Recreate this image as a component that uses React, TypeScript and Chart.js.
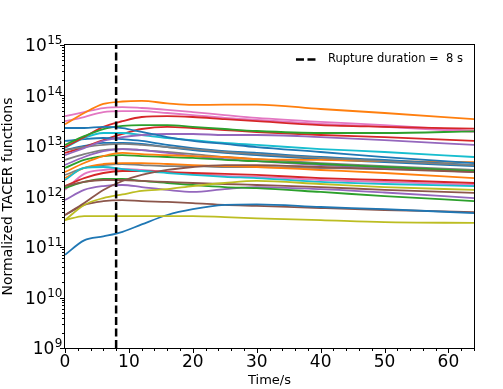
import React, { useEffect, useRef } from 'react';
import { Chart, registerables } from 'chart.js';

Chart.register(...registerables);

// ---------- data ----------
const TIME = [0, 3, 6, 9, 12, 16, 20, 25, 30, 40, 50, 64];
const RUPTURE_DURATION = 8;
const Y_TICKS = [1e9, 1e10, 1e11, 1e12, 1e13, 1e14, 1e15];
const Y_TICK_BASE = '10';
const Y_TICK_EXPONENTS = ['9', '10', '11', '12', '13', '14', '15'];
const X_TICKS = [0, 10, 20, 30, 40, 50, 60];
const LEGEND_LABEL = 'Rupture duration =  8 s';
const X_LABEL = 'Time/s';
const Y_LABEL = 'Normalized TACER functions';

const BLUE = '#1f77b4';
const ORANGE = '#ff7f0e';
const GREEN = '#2ca02c';
const RED = '#d62728';
const PURPLE = '#9467bd';
const BROWN = '#8c564b';
const PINK = '#e377c2';
const GRAY = '#7f7f7f';
const OLIVE = '#bcbd22';
const CYAN = '#17becf';

const blueTop = [2.27e13, 2.27e13, 2.4e13, 2.27e13, 1.9e13, 1.5e13, 1.26e13, 1.1e13, 9.5e12, 7.6e12, 6.0e12, 4.6e12];
const orangeTop = [2.7e13, 4.5e13, 6.8e13, 7.6e13, 7.8e13, 7.0e13, 6.5e13, 6.6e13, 6.6e13, 5.4e13, 4.5e13, 3.4e13];
const greenTop = [1.05e13, 1.57e13, 2.17e13, 2.5e13, 2.6e13, 2.6e13, 2.4e13, 2.17e13, 1.98e13, 1.81e13, 1.81e13, 1.95e13];
const redTop = [9.5e12, 1.5e13, 2.4e13, 3.1e13, 3.75e13, 3.9e13, 3.75e13, 3.4e13, 3.1e13, 2.6e13, 2.4e13, 2.2e13];
const purpleTop = [6.6e12, 9.1e12, 1.26e13, 1.5e13, 1.65e13, 1.73e13, 1.73e13, 1.65e13, 1.65e13, 1.5e13, 1.31e13, 1.05e13];
const brownRise = [4.3e11, 7.4e11, 1.35e12, 2.03e12, 2.67e12, 3.35e12, 3.84e12, 4.2e12, 4.2e12, 3.84e12, 3.5e12, 3.05e12];
const pinkTop = [3.9e13, 4.7e13, 5.65e13, 5.9e13, 5.65e13, 5.2e13, 4.7e13, 4.1e13, 3.6e13, 3.0e13, 2.6e13, 1.98e13];
const grayTop = [8.3e12, 9.5e12, 1.05e13, 1.1e13, 1.05e13, 9.5e12, 8.7e12, 7.6e12, 6.9e12, 5.8e12, 5.0e12, 4.2e12];
const oliveRise = [3.4e11, 6.8e11, 9.3e11, 1.1e12, 1.29e12, 1.4e12, 1.61e12, 1.85e12, 2.03e12, 1.77e12, 1.54e12, 1.35e12];
const cyanTop = [9.1e12, 1.44e13, 1.81e13, 1.81e13, 1.65e13, 1.44e13, 1.31e13, 1.15e13, 1.05e13, 8.7e12, 7.6e12, 6.05e12];
const blueMid = [1.26e13, 1.37e13, 1.44e13, 1.37e13, 1.26e13, 1.05e13, 9.1e12, 7.9e12, 7.3e12, 6.05e12, 5.3e12, 4.2e12];
const orangeMid = [3.05e12, 4.6e12, 6.3e12, 7.3e12, 6.9e12, 6.6e12, 6.3e12, 6.05e12, 5.5e12, 5.3e12, 5.0e12, 4.8e12];
const greenMid = [3.67e12, 5.3e12, 6.3e12, 6.6e12, 6.3e12, 6.05e12, 5.8e12, 5.3e12, 5.0e12, 4.4e12, 3.84e12, 3.2e12];
const redMid = [7.3e12, 9.5e12, 1.31e13, 1.73e13, 2.17e13, 2.4e13, 2.27e13, 2.07e13, 1.89e13, 1.65e13, 1.5e13, 1.26e13];
const purpleMid = [4.2e12, 6.05e12, 7.9e12, 8.7e12, 8.3e12, 7.3e12, 6.3e12, 5.5e12, 5.0e12, 4.2e12, 3.67e12, 3.05e12];
const brownMid = [1.61e12, 1.94e12, 2.12e12, 2.12e12, 2.03e12, 1.94e12, 1.85e12, 1.77e12, 1.69e12, 1.54e12, 1.35e12, 1.18e12];
const pinkMid = [3.1e13, 3.75e13, 4.7e13, 4.9e13, 4.9e13, 4.5e13, 4.1e13, 3.6e13, 3.3e13, 2.75e13, 2.4e13, 1.9e13];
const grayMid = [5.3e12, 6.9e12, 8.3e12, 8.7e12, 8.3e12, 7.6e12, 6.9e12, 6.05e12, 5.5e12, 4.6e12, 4.0e12, 3.35e12];
const oliveFlat = [3.4e11, 4.1e11, 4.1e11, 4.1e11, 4.1e11, 4.1e11, 4.1e11, 3.9e11, 3.7e11, 3.4e11, 3.1e11, 3.0e11];
const cyanLow = [2.12e12, 3.67e12, 3.84e12, 3.5e12, 3.2e12, 2.92e12, 2.67e12, 2.45e12, 2.32e12, 1.94e12, 1.77e12, 1.61e12];
const blueLow = [7.0e10, 1.35e11, 1.62e11, 2.0e11, 2.8e11, 4.3e11, 5.6e11, 6.8e11, 7.0e11, 6.2e11, 5.6e11, 4.7e11];
const orangeLow = [2.32e12, 3.67e12, 4.4e12, 4.6e12, 4.6e12, 4.4e12, 4.2e12, 4.0e12, 3.84e12, 3.35e12, 2.92e12, 2.32e12];
const greenLow = [1.47e12, 1.94e12, 2.22e12, 2.22e12, 2.03e12, 1.85e12, 1.69e12, 1.54e12, 1.47e12, 1.23e12, 1.02e12, 8.1e11];
const redLow = [1.61e12, 2.32e12, 2.92e12, 3.2e12, 3.2e12, 3.05e12, 2.92e12, 2.8e12, 2.67e12, 2.32e12, 2.12e12, 1.85e12];
const purpleLow = [8.5e11, 1.35e12, 1.61e12, 1.69e12, 1.54e12, 1.35e12, 1.23e12, 1.4e12, 1.54e12, 1.4e12, 1.2e12, 9.3e11];
const brownLow = [4.3e11, 6.8e11, 8.1e11, 8.5e11, 8.1e11, 7.8e11, 7.4e11, 6.8e11, 6.5e11, 5.9e11, 5.4e11, 4.9e11];
const pinkLow = [1.35e12, 2.8e12, 3.35e12, 3.5e12, 3.35e12, 3.05e12, 2.8e12, 2.55e12, 2.45e12, 2.12e12, 1.94e12, 1.69e12];
const grayLow = [2.67e12, 3.67e12, 4.2e12, 4.4e12, 4.2e12, 4.0e12, 4.0e12, 3.84e12, 3.84e12, 3.67e12, 3.5e12, 3.35e12];
const blueThird = [8.3e12, 1.0e13, 1.15e13, 1.15e13, 1.1e13, 9.5e12, 8.3e12, 7.3e12, 6.6e12, 5.5e12, 4.8e12, 4.0e12];

const SERIES: { values: number[]; color: string }[] = [
  { values: blueTop, color: BLUE },
  { values: orangeTop, color: ORANGE },
  { values: greenTop, color: GREEN },
  { values: redTop, color: RED },
  { values: purpleTop, color: PURPLE },
  { values: brownRise, color: BROWN },
  { values: pinkTop, color: PINK },
  { values: grayTop, color: GRAY },
  { values: oliveRise, color: OLIVE },
  { values: cyanTop, color: CYAN },
  { values: blueMid, color: BLUE },
  { values: orangeMid, color: ORANGE },
  { values: greenMid, color: GREEN },
  { values: redMid, color: RED },
  { values: purpleMid, color: PURPLE },
  { values: brownMid, color: BROWN },
  { values: pinkMid, color: PINK },
  { values: grayMid, color: GRAY },
  { values: oliveFlat, color: OLIVE },
  { values: cyanLow, color: CYAN },
  { values: blueLow, color: BLUE },
  { values: orangeLow, color: ORANGE },
  { values: greenLow, color: GREEN },
  { values: redLow, color: RED },
  { values: purpleLow, color: PURPLE },
  { values: brownLow, color: BROWN },
  { values: pinkLow, color: PINK },
  { values: grayLow, color: GRAY },
  { values: blueThird, color: BLUE },
];

const FONT = '"DejaVu Sans", sans-serif';

const decorPlugin = {
  id: 'mplDecor',
  afterDraw(chart: any) {
    const { ctx, chartArea } = chart;
    const { left, right, top, bottom } = chartArea;
    const xs = chart.scales.x;
    const ys = chart.scales.y;
    ctx.save();
    ctx.strokeStyle = '#000';
    ctx.lineWidth = 1;
    // spines
    ctx.strokeRect(Math.round(left) - 0.5, Math.round(top) - 0.5, Math.round(right - left) + 1, Math.round(bottom - top) + 1);
    // y ticks (major + minor)
    ctx.beginPath();
    for (let e = 9; e <= 15; e++) {
      for (let k = 1; k <= 9; k++) {
        const v = k * Math.pow(10, e);
        if (v > 1e15 * 1.0001) break;
        const py = Math.round(ys.getPixelForValue(v)) + 0.5;
        const len = k === 1 ? 4.5 : 2.5;
        ctx.moveTo(Math.round(left) - 0.5 - len, py);
        ctx.lineTo(Math.round(left) - 0.5, py);
      }
    }
    // x ticks
    for (let t = 0; t <= 64; t += 2) {
      const px = Math.round(xs.getPixelForValue(t)) + 0.5;
      const len = t % 10 === 0 ? 4.5 : 2.5;
      ctx.moveTo(px, Math.round(bottom) + 0.5);
      ctx.lineTo(px, Math.round(bottom) + 0.5 + len);
    }
    ctx.stroke();
    // y tick labels: 10 with superscript exponent
    ctx.fillStyle = '#000';
    ctx.textBaseline = 'alphabetic';
    ctx.textAlign = 'left';
    const baseFont = '17px ' + FONT;
    const expFont = '12px ' + FONT;
    Y_TICKS.forEach((v, i) => {
      const py = ys.getPixelForValue(v);
      const exp = Y_TICK_EXPONENTS[i];
      ctx.font = expFont;
      const ew = ctx.measureText(exp).width;
      ctx.font = baseFont;
      const bw = ctx.measureText(Y_TICK_BASE).width;
      const xRight = left - 2.5;
      const bx = xRight - ew - bw - 0.5;
      const baseline = py + 6.2;
      ctx.fillText(Y_TICK_BASE, bx, baseline);
      ctx.font = expFont;
      ctx.fillText(exp, bx + bw + 0.5, baseline - 7);
    });
    // legend
    ctx.font = '11.5px ' + FONT;
    ctx.textAlign = 'right';
    ctx.textBaseline = 'middle';
    const tx = right - 11;
    const ty = top + 14.5;
    ctx.fillText(LEGEND_LABEL, tx, ty);
    const w = ctx.measureText(LEGEND_LABEL).width;
    const sx = tx - w - 11;
    ctx.beginPath();
    ctx.lineWidth = 2.5;
    ctx.setLineDash([8, 3.5]);
    ctx.moveTo(sx - 21, ty);
    ctx.lineTo(sx, ty);
    ctx.stroke();
    ctx.restore();
  },
};

export default function App() {
  const ref = useRef<HTMLCanvasElement | null>(null);
  useEffect(() => {
    document.body.style.margin = '0';
    const canvas = ref.current;
    if (!canvas) return;
    const datasets: any[] = [
      {
        data: [
          { x: RUPTURE_DURATION, y: Y_TICKS[0] },
          { x: RUPTURE_DURATION, y: Y_TICKS[Y_TICKS.length - 1] },
        ],
        borderColor: '#000',
        borderWidth: 2.5,
        borderDash: [8, 3.5],
        pointRadius: 0,
        fill: false,
      },
      ...SERIES.map((s) => ({
        data: TIME.map((t, i) => ({ x: t, y: s.values[i] })),
        borderColor: s.color,
        borderWidth: 1.8,
        pointRadius: 0,
        fill: false,
        cubicInterpolationMode: 'monotone',
      })),
    ];
    const chart = new Chart(canvas, {
      type: 'line',
      data: { datasets },
      options: {
        responsive: false,
        animation: false,
        devicePixelRatio: 1,
        layout: { padding: { left: 0, top: 45, right: 29, bottom: 0 } },
        plugins: { legend: { display: false }, tooltip: { enabled: false } },
        scales: {
          x: {
            type: 'linear',
            min: 0,
            max: 64,
            grid: { display: false, drawTicks: false },
            border: { display: false },
            afterFit: (s: any) => {
              s.height = 41;
            },
            afterBuildTicks: (s: any) => {
              s.ticks = X_TICKS.map((v) => ({ value: v }));
            },
            ticks: {
              autoSkip: false,
              maxRotation: 0,
              padding: 4,
              color: '#000',
              font: { family: FONT, size: 17 },
              callback: (v: any) => String(v),
            },
            title: {
              display: true,
              text: X_LABEL,
              color: '#000',
              font: { family: FONT, size: 13 },
              padding: { top: 0, bottom: 1 },
            },
          },
          y: {
            type: 'logarithmic',
            min: Y_TICKS[0],
            max: Y_TICKS[Y_TICKS.length - 1],
            grid: { display: false, drawTicks: false },
            border: { display: false },
            afterFit: (s: any) => {
              s.width = 65;
            },
            afterBuildTicks: (s: any) => {
              s.ticks = Y_TICKS.map((v) => ({ value: v }));
            },
            ticks: { display: false },
            title: {
              display: true,
              text: Y_LABEL,
              color: '#000',
              font: { family: FONT, size: 14 },
              padding: { top: 0, bottom: 0 },
            },
          },
        },
      } as any,
      plugins: [decorPlugin],
    });
    return () => chart.destroy();
  }, []);
  return (
    <div style={{ width: 503, height: 389 }}>
      <canvas ref={ref} width={503} height={389} style={{ display: 'block' }} />
    </div>
  );
}
